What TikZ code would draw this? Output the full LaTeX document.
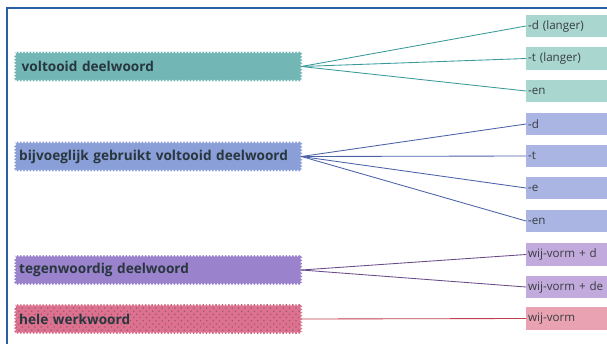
\documentclass[tikz,border=0pt]{standalone}
\usepackage{fontspec}
\setmainfont{Open Sans}
\usetikzlibrary{decorations.pathmorphing,patterns.meta}
\definecolor{frameblue}{HTML}{2A5FA8}
\definecolor{tealL}{HTML}{72B7B6}
\definecolor{tealR}{HTML}{A9D6CF}
\definecolor{tealLine}{HTML}{3A9A9A}
\definecolor{blueL}{HTML}{8A9ED8}
\definecolor{blueR}{HTML}{AAB5E4}
\definecolor{blueLine}{HTML}{4A62A8}
\definecolor{purpL}{HTML}{9A82CC}
\definecolor{purpR}{HTML}{C2AADD}
\definecolor{purpLine}{HTML}{6A4A8A}
\definecolor{pinkL}{HTML}{DC7290}
\definecolor{pinkR}{HTML}{E9A2B2}
\definecolor{pinkLine}{HTML}{C04050}
\definecolor{txtL}{HTML}{28363E}
\definecolor{txtR}{HTML}{383C40}
\tikzset{
  leftbox/.style={fill=#1, decorate, decoration={zigzag, segment length=3.2pt, amplitude=1.2pt},
    minimum width=286pt, minimum height=28pt, text width=278pt, inner xsep=4pt, align=left,
    anchor=west, font=\fontsize{13.6}{15}\selectfont\bfseries, text=txtL},
  rightbox/.style={fill=#1, minimum width=84pt, minimum height=22.5pt, text width=80pt, inner xsep=2pt,
    align=left, anchor=west, font=\fontsize{11.6}{13}\selectfont, text=txtR},
  conn/.style={draw=#1, line width=0.85pt}
}
\begin{document}
\begin{tikzpicture}[x=1pt,y=-1pt]
\useasboundingbox (0,0) rectangle (607,343);
\fill[white] (0,0) rectangle (607,343);
\draw[frameblue, line width=2pt] (7,345) -- (7,8) -- (610,8);
% left boxes
\node[leftbox=tealL] (A) at (15,66.5) {\hspace{2.5pt}voltooid deelwoord};
\node[leftbox=blueL] (B) at (15,156.5) {bijvoeglijk gebruikt voltooid deelwoord};
\node[leftbox=purpL] (C) at (15,270) {tegenwoordig deelwoord};
\node[leftbox=pinkL, postaction={pattern={Dots[distance=4.5pt, radius=0.9pt, angle=45]}, pattern color=pinkL!75!black}] (D) at (15,319) {hele werkwoord};
% right boxes
\node[rightbox=tealR] (r1) at (526,26) {-d (langer)};
\node[rightbox=tealR] (r2) at (526,58.5) {-t (langer)};
\node[rightbox=tealR] (r3) at (526,91) {-en};
\node[rightbox=blueR] (r4) at (526,124) {-d};
\node[rightbox=blueR] (r5) at (526,156) {-t};
\node[rightbox=blueR] (r6) at (526,188) {-e};
\node[rightbox=blueR] (r7) at (526,221) {-en};
\node[rightbox=purpR] (r8) at (526,254.5) {wij-vorm + d};
\node[rightbox=purpR] (r9) at (526,287) {wij-vorm + de};
\node[rightbox=pinkR] (r10) at (526,318.5) {wij-vorm};
% connectors
\draw[conn=tealLine] (A.east) -- (r1.west);
\draw[conn=tealLine] (A.east) -- (r2.west);
\draw[conn=tealLine] (A.east) -- (r3.west);
\draw[conn=blueLine] (B.east) -- (r4.west);
\draw[conn=blueLine] (B.east) -- (r5.west);
\draw[conn=blueLine] (B.east) -- (r6.west);
\draw[conn=blueLine] (B.east) -- (r7.west);
\draw[conn=purpLine] (C.east) -- (r8.west);
\draw[conn=purpLine] (C.east) -- (r9.west);
\draw[conn=pinkLine] (D.east) -- (r10.west);
\end{tikzpicture}
\end{document}
